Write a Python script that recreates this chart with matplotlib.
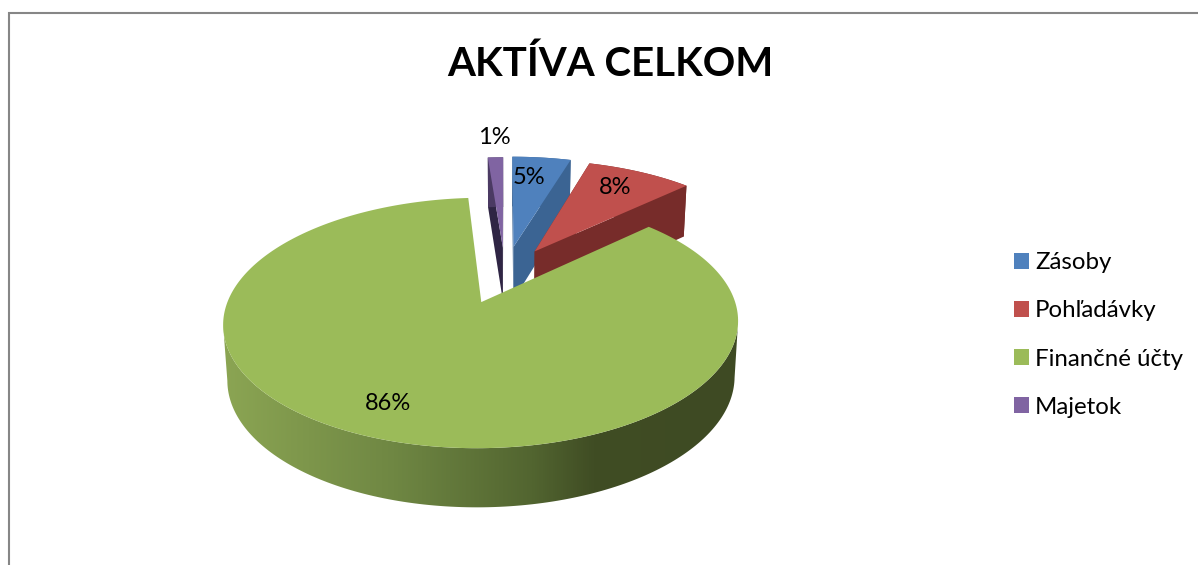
import numpy as np
import matplotlib
matplotlib.use('Agg')
import matplotlib.pyplot as plt
from matplotlib.patches import Polygon, Patch
from matplotlib.colors import LinearSegmentedColormap

labels = ['Zásoby', 'Pohľadávky', 'Finančné účty', 'Majetok']
values = [4.6, 8.3, 85.9, 1.2]

title = 'AKTÍVA CELKOM'

top_colors = ['#4f81bd', '#c0504d', '#9bbb59', '#8064a2']
face_colors = ['#3b6493', '#772c2a', '#5f7530', '#2f2544']
wall_colors = ['#3b6493', '#772c2a', None, '#4b3a63']
explode = [0.25, 0.24, 0.26, 0.24]
label_pos = [(529, 177), (615, 188), (388, 403), (494, 137)]

# projection of the pie plane to the picture
CX, CY = 505, 273.7
SX, SY = 244, 112.5
P = 0.16
DEPTH = 54
P_LOW = 0.07
SHRINK = 0.985


def project(u, v):
    w = 1 + P * v
    return CX + SX * u / w, CY - SY * v / w


def project_low(u, v):
    x, y = project(u, v)
    return CX + (x - CX) * SHRINK, y + DEPTH / (1 + P_LOW * v)


def arc(a0, a1, e, mid):
    ang = np.radians(np.linspace(a0, a1, 300))
    u = e * np.sin(np.radians(mid)) + np.sin(ang)
    v = e * np.cos(np.radians(mid)) + np.cos(ang)
    return u, v


fig = plt.figure(figsize=(11.98, 5.65), dpi=100)
ax = fig.add_axes([0, 0, 1, 1])
plt.rcParams['font.family'] = ['Lato', 'DejaVu Sans']

edges = np.cumsum([0] + values) / sum(values) * 360
wedges = []
for i in range(len(values)):
    wedges.append((i, edges[i], edges[i + 1], explode[i]))

# back slices first, the big one goes over them
for i, a0, a1, e in [wedges[3], wedges[0], wedges[1], wedges[2]]:
    mid = (a0 + a1) / 2
    u0 = e * np.sin(np.radians(mid))
    v0 = e * np.cos(np.radians(mid))
    u, v = arc(a0, a1, e, mid)
    tx, ty = project(u, v)
    bx, by = project_low(u, v)
    ax_, ay_ = project(u0, v0)
    lx_, ly_ = project_low(u0, v0)

    if i != 2:
        # cut faces
        for k in (0, -1):
            pts = [(ax_, ay_), (tx[k], ty[k]), (bx[k], by[k]), (lx_, ly_)]
            ax.add_patch(Polygon(pts, closed=True, fc=face_colors[i], ec='none', zorder=2 + i))
        pts = list(zip(tx, ty)) + list(zip(bx[::-1], by[::-1]))
        ax.add_patch(Polygon(pts, closed=True, fc=wall_colors[i], ec='none', zorder=2 + i))
        zt = 2.5 + i
    else:
        # only the front part of the wall, from right extreme to left extreme
        r, l = np.argmax(tx), np.argmin(tx)
        pts = list(zip(tx[r:l + 1], ty[r:l + 1])) + list(zip(bx[r:l + 1][::-1], by[r:l + 1][::-1]))
        wall = Polygon(pts, closed=True, fc='none', ec='none', zorder=8)
        ax.add_patch(wall)
        cmap = LinearSegmentedColormap.from_list('wall', [
            (0.0, '#8ba553'), (0.33, '#6f8743'), (0.6, '#526530'),
            (0.72, '#404d24'), (1.0, '#3e4a23')])
        grad = np.linspace(0, 1, 512).reshape(1, -1)
        im = ax.imshow(grad, extent=(223, 738, 520, 190), aspect='auto', cmap=cmap, zorder=8)
        im.set_clip_path(wall)
        zt = 9
    pts = [(ax_, ay_)] + list(zip(tx, ty))
    ax.add_patch(Polygon(pts, closed=True, fc=top_colors[i], ec='none', zorder=zt))

for val, (x, y) in zip(values, label_pos):
    ax.text(x, y, '%.0f%%' % val, ha='center', va='center', fontsize=17, color='black', zorder=12)

ax.text(610, 64, title, ha='center', va='center', fontsize=29, fontweight='bold', color='black')

# chart frame, only the top and the left are in the crop
ax.plot([9, 9, 1198], [565, 12.5, 12.5], color='#868686', lw=1.5, solid_joinstyle='miter', zorder=1)

handles = [Patch(fc=c, ec='none') for c in top_colors]
ax.legend(handles, labels, loc='center left', bbox_to_anchor=(1014 / 1198, 1 - 335 / 565),
          frameon=False, fontsize=17.3, labelspacing=1.13, handlelength=0.62, handleheight=0.62,
          handletextpad=0.25, borderpad=0, borderaxespad=0)

ax.set_xlim(0, 1198)
ax.set_ylim(565, 0)
ax.axis('off')
fig.savefig('out.png', dpi=100, facecolor='white')
